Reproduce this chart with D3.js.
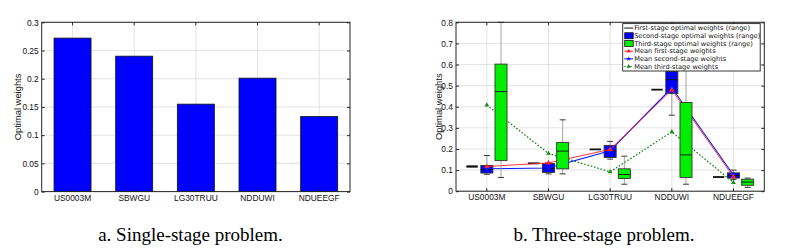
<!DOCTYPE html>
<html>
<head>
<meta charset="utf-8">
<script src="https://cdn.jsdelivr.net/npm/d3@7"></script>
<style>
html,body{margin:0;padding:0;background:#fff;}
svg{display:block;}
text{font-family:"Liberation Sans",Arial,Helvetica,sans-serif;}
text.cap{font-family:"Liberation Serif","Times New Roman",serif;}
text.leg{font-family:"DejaVu Sans","Liberation Sans",sans-serif;}
</style>
</head>
<body>
<svg id="chart" width="787" height="248"></svg>
<script>
// ---------- data ----------
const categories = ["US0003M","SBWGU","LG30TRUU","NDDUWI","NDUEEGF"];

// a. single-stage optimal weights
const singleStage = [0.272, 0.240, 0.155, 0.201, 0.133];
const leftTicks = [0,0.05,0.1,0.15,0.2,0.25,0.3];
const leftTickLabels = ["0","0.05","0.1","0.15","0.2","0.25","0.3"];

// b. three-stage: ranges [low, q1, median, q3, high]
const firstStageRange = [
  [0.114,0.114,0.117,0.120,0.120],
  [0.130,0.130,0.132,0.134,0.134],
  [0.196,0.196,0.198,0.200,0.200],
  [0.479,0.479,0.481,0.483,0.483],
  [0.065,0.065,0.067,0.069,0.069]
];
const secondStageRange = [
  [0.080,0.086,0.103,0.122,0.169],
  [0.082,0.089,0.108,0.131,0.134],
  [0.152,0.160,0.190,0.217,0.236],
  [0.360,0.463,0.528,0.567,0.590],
  [0.055,0.062,0.074,0.087,0.100]
];
const thirdStageRange = [
  [0.065,0.145,0.472,0.602,0.800],
  [0.082,0.106,0.190,0.231,0.338],
  [0.033,0.060,0.079,0.106,0.166],
  [0.033,0.065,0.172,0.420,0.580],
  [0.018,0.028,0.043,0.057,0.062]
];
const meanFirst  = [0.117, 0.134, 0.198, 0.480, 0.068];
const meanSecond = [0.106, 0.110, 0.192, 0.490, 0.077];
const meanThird  = [0.408, 0.179, 0.092, 0.281, 0.041];
const rightTicks = [0,0.1,0.2,0.3,0.4,0.5,0.6,0.7,0.8];
const rightTickLabels = ["0","0.1","0.2","0.3","0.4","0.5","0.6","0.7","0.8"];

const legendLabels = [
  "First-stage optimal weights (range)",
  "Second-stage optimal weights (range)",
  "Third-stage optimal weights (range)",
  "Mean first-stage weights",
  "Mean second-stage weights",
  "Mean third-stage weights"
];
const yTitle = "Optimal weights";
const captions = ["a. Single-stage problem.", "b. Three-stage problem."];

// ---------- helpers ----------
const svg = d3.select("#chart");
const frameColor = "#262626";
const gridColor = "#dcdcdc";
const tickFont = 8.4;

function makeGrid(g, x, y, ticks, left, right, top, bottom) {
  g.append("g").selectAll("line").data(ticks).join("line")
    .attr("x1", left).attr("x2", right)
    .attr("y1", d => y(d)).attr("y2", d => y(d))
    .attr("stroke", gridColor).attr("stroke-width", 0.8);
  g.append("g").selectAll("line").data(categories).join("line")
    .attr("x1", d => x(d) + x.bandwidth()/2).attr("x2", d => x(d) + x.bandwidth()/2)
    .attr("y1", top).attr("y2", bottom)
    .attr("stroke", gridColor).attr("stroke-width", 0.8);
}

function finishAxes(g, x, y, ticks, labels, left, right, top, bottom, yLabelX) {
  const tickFmt = d => labels[ticks.indexOf(d)];
  const ax = [
    g.append("g").attr("transform", `translate(${left},0)`)
      .call(d3.axisLeft(y).tickValues(ticks).tickFormat(tickFmt).tickSizeInner(-3).tickSizeOuter(0).tickPadding(3)),
    g.append("g").attr("transform", `translate(${right},0)`)
      .call(d3.axisRight(y).tickValues(ticks).tickFormat("").tickSizeInner(-3).tickSizeOuter(0)),
    g.append("g").attr("transform", `translate(0,${bottom})`)
      .call(d3.axisBottom(x).tickSizeInner(-3).tickSizeOuter(0).tickPadding(3)),
    g.append("g").attr("transform", `translate(0,${top})`)
      .call(d3.axisTop(x).tickFormat("").tickSizeInner(-3).tickSizeOuter(0))
  ];
  ax.forEach(a => {
    a.select(".domain").remove();
    a.selectAll(".tick line").attr("stroke", frameColor);
    a.selectAll("text").attr("font-size", tickFont).attr("fill", "#111");
  });
  g.append("rect").attr("x", left).attr("y", top)
    .attr("width", right-left).attr("height", bottom-top)
    .attr("fill", "none").attr("stroke", frameColor).attr("stroke-width", 1);
  g.append("text")
    .attr("transform", `translate(${yLabelX},${(top+bottom)/2}) rotate(-90)`)
    .attr("text-anchor", "middle").attr("dominant-baseline", "middle")
    .attr("font-size", 9.4).attr("fill", "#111").text(yTitle);
}

// ---------- chart a ----------
{
  const left = 41.7, right = 350, top = 22.3, bottom = 191.6;
  const g = svg.append("g");
  const x = d3.scaleBand().domain(categories).range([left, right]).padding(0);
  const y = d3.scaleLinear().domain([0, 0.3]).range([bottom, top]);
  makeGrid(g, x, y, leftTicks, left, right, top, bottom);
  const bw = x.bandwidth() * 0.6;
  g.append("g").selectAll("rect").data(singleStage).join("rect")
    .attr("x", (d,i) => x(categories[i]) + x.bandwidth()/2 - bw/2)
    .attr("width", bw)
    .attr("y", d => y(d))
    .attr("height", d => y(0) - y(d))
    .attr("fill", "#0000ff").attr("stroke", "#111").attr("stroke-width", 0.8);
  finishAxes(g, x, y, leftTicks, leftTickLabels, left, right, top, bottom, 18.5);
}

// ---------- chart b ----------
{
  const left = 456, right = 764.3, top = 22.3, bottom = 191.2;
  const g = svg.append("g");
  const x = d3.scaleBand().domain(categories).range([left, right]).padding(0);
  const y = d3.scaleLinear().domain([0, 0.8]).range([bottom, top]);
  makeGrid(g, x, y, rightTicks, left, right, top, bottom);
  const bwUnit = x.bandwidth();
  const cx = i => x(categories[i]) + bwUnit/2;

  function drawBoxes(data, offset, widthFrac, fill, isLine) {
    const w = bwUnit * widthFrac;
    const gg = g.append("g");
    data.forEach((d, i) => {
      const c = cx(i) + offset * bwUnit;
      if (!isLine) {
        gg.append("line").attr("x1", c).attr("x2", c)
          .attr("y1", y(d[0])).attr("y2", y(d[4]))
          .attr("stroke", "#9a9a9a").attr("stroke-width", 0.9);
        [d[0], d[4]].forEach(v => {
          gg.append("line").attr("x1", c - w*0.25).attr("x2", c + w*0.25)
            .attr("y1", y(v)).attr("y2", y(v))
            .attr("stroke", "#222").attr("stroke-width", 0.9);
        });
        gg.append("rect").attr("x", c - w/2).attr("width", w)
          .attr("y", y(d[3])).attr("height", y(d[1]) - y(d[3]))
          .attr("fill", fill).attr("stroke", "#333").attr("stroke-width", 0.9);
        gg.append("line").attr("x1", c - w/2).attr("x2", c + w/2)
          .attr("y1", y(d[2])).attr("y2", y(d[2]))
          .attr("stroke", "#111").attr("stroke-width", 0.9);
      } else {
        gg.append("rect").attr("x", c - w/2).attr("width", w)
          .attr("y", y(d[4])).attr("height", Math.max(y(d[0]) - y(d[4]), 0.5))
          .attr("fill", "#111").attr("stroke", "#111").attr("stroke-width", 0.9);
      }
    });
  }

  drawBoxes(secondStageRange, 0, 0.195, "#0000ff", false);
  drawBoxes(firstStageRange, -0.24, 0.17, "#000", true);

  function drawMean(vals, color, dash, symbol, size, width) {
    const line = d3.line().x((d,i) => cx(i)).y(d => y(d));
    g.append("path").datum(vals).attr("d", line)
      .attr("fill", "none").attr("stroke", color).attr("stroke-width", width)
      .attr("stroke-dasharray", dash);
    g.append("g").selectAll("path").data(vals).join("path")
      .attr("transform", (d,i) => `translate(${cx(i)},${y(d)})`)
      .attr("d", d3.symbol().type(symbol).size(size))
      .attr("fill", color);
  }
  drawMean(meanThird, "#1a8a1a", "1.6,1.8", d3.symbolTriangle, 10, 1.3);
  drawMean(meanSecond, "#0a14ff", null, d3.symbolStar, 12, 1.1);
  drawMean(meanFirst, "#ff2020", null, d3.symbolTriangle, 12, 0.9);

  drawBoxes(thirdStageRange, 0.23, 0.195, "#00ee00", false);

  finishAxes(g, x, y, rightTicks, rightTickLabels, left, right, top, bottom, 439.5);

  // legend
  const rowH = 7.7, lx = 622.7, ly = 23.6, lw = 137.5, lh = rowH * 6 + 1.2;
  const lg = g.append("g");
  lg.append("rect").attr("x", lx).attr("y", ly).attr("width", lw).attr("height", lh)
    .attr("fill", "#fff").attr("stroke", "#222").attr("stroke-width", 0.9);
  const styles = [
    {type:"line", color:"#111"},
    {type:"patch", color:"#0000ff"},
    {type:"patch", color:"#00ee00"},
    {type:"mean", color:"#ff2020", dash:null, sym:d3.symbolTriangle},
    {type:"mean", color:"#0a14ff", dash:null, sym:d3.symbolStar},
    {type:"mean", color:"#1a8a1a", dash:"1.5,1.5", sym:d3.symbolTriangle}
  ];
  legendLabels.forEach((t, i) => {
    const ry = ly + 0.6 + rowH/2 + i * rowH;
    const s = styles[i];
    if (s.type === "line") {
      lg.append("line").attr("x1", lx+1.5).attr("x2", lx+10.5).attr("y1", ry).attr("y2", ry)
        .attr("stroke", s.color).attr("stroke-width", 1);
    } else if (s.type === "patch") {
      lg.append("rect").attr("x", lx+2).attr("y", ry-3).attr("width", 8.5).attr("height", 6)
        .attr("fill", s.color).attr("stroke", "#111").attr("stroke-width", 0.8);
    } else {
      lg.append("line").attr("x1", lx+1.5).attr("x2", lx+10.5).attr("y1", ry).attr("y2", ry)
        .attr("stroke", s.color).attr("stroke-width", 1).attr("stroke-dasharray", s.dash);
      lg.append("path").attr("transform", `translate(${lx+6},${ry})`)
        .attr("d", d3.symbol().type(s.sym).size(8)).attr("fill", s.color);
    }
    lg.append("text").attr("class", "leg").attr("x", lx + 11.5).attr("y", ry + 2.3)
      .attr("font-size", 6.6).attr("fill", "#111").text(t);
  });
}

// captions
svg.selectAll("text.cap").data(captions).join("text")
  .attr("class", "cap")
  .attr("x", (d,i) => i === 0 ? 190.5 : 604)
  .attr("y", 240.5)
  .attr("text-anchor", "middle")
  .attr("font-size", 19)
  .attr("fill", "#000")
  .text(d => d);
</script>
</body>
</html>
